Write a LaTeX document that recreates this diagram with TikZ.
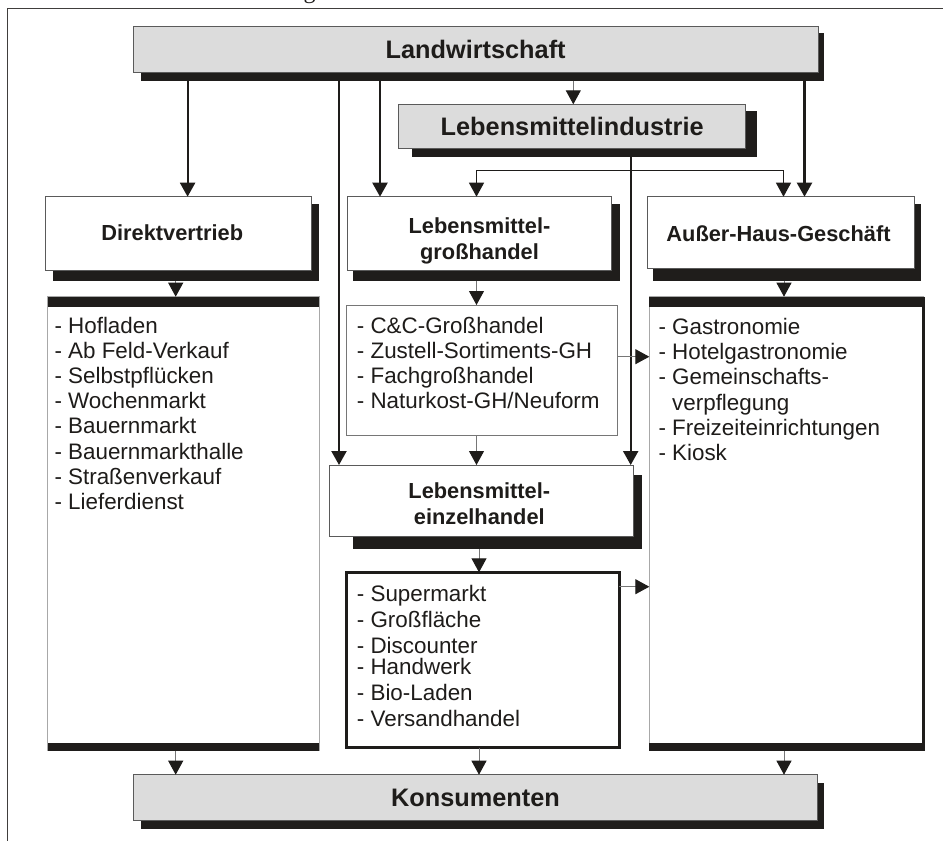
\documentclass[tikz,border=0pt]{standalone}
\usepackage{fontspec}
\setmainfont{Liberation Sans}
\newfontfamily\CapSerif{Liberation Serif}
\usetikzlibrary{arrows.meta,fit,calc}
\definecolor{ink}{HTML}{1E1C1A}
\definecolor{shd}{HTML}{1F1D1B}
\definecolor{boxfill}{HTML}{DCDCDC}
\definecolor{edgegray}{HTML}{5A5A5A}
\definecolor{thingray}{HTML}{767676}
\definecolor{paleedge}{HTML}{A8A8A8}
\tikzset{
 shadowrect/.style={fill=shd, inner sep=0pt, outer sep=0pt, draw=none},
 graybox/.style={draw=edgegray, line width=1pt, fill=boxfill, inner sep=0pt, outer sep=0pt, font=\fontsize{25.3}{28}\selectfont\bfseries, text=ink},
 whitebox/.style={draw=edgegray, line width=1pt, fill=white, inner sep=0pt, outer sep=0pt},
 titletxt/.style={align=center, inner sep=0pt, font=\fontsize{21.8}{25.5}\selectfont\bfseries, text=ink},
 listbox/.style={fill=white, inner sep=0pt, outer sep=0pt},
 listtxt/.style={anchor=base west, inner sep=0pt, font=\fontsize{22.4}{25}\selectfont, text=ink},
 bigarrow/.style={draw=ink, line width=2.2pt, -{Triangle[length=14pt,width=15pt]}},
 smallarrow/.style={draw=thingray, line width=1pt, -{Triangle[length=14pt,width=15pt,color=ink]}},
 brancharrow/.style={draw=ink, line width=1.3pt, -{Triangle[length=14pt,width=15pt]}},
 band/.style={fill=shd}
}
\begin{document}
\begin{tikzpicture}[x=1pt,y=-1pt]
\useasboundingbox (0,0) rectangle (943,841);
\fill[white] (0,0) rectangle (943,841);
% frame of the figure
\draw[color=ink!85, line width=1.5pt] (7.3,841) -- (7.3,8.3) -- (943,8.3);
\node[anchor=base, inner sep=0pt, font=\CapSerif\fontsize{24}{24}\selectfont, text=ink] (capfrag) at (309.5,-1.5) {g};

% shadows
\node[shadowrect, fit={(140.7,33) (824,80.7)}] (landS) {};
\node[shadowrect, fit={(412,111) (756.5,156.7)}] (indS) {};
\node[shadowrect, fit={(53.3,204) (319.3,280.7)}] (direktS) {};
\node[shadowrect, fit={(353.3,204) (620,280.7)}] (grossS) {};
\node[shadowrect, fit={(653.3,204) (920.7,280.7)}] (ausserS) {};
\node[shadowrect, fit={(353,475) (642.3,549)}] (einzelS) {};
\node[shadowrect, fit={(141,782.7) (824,829)}] (konsumS) {};

% main boxes
\node[graybox, minimum width=684.7pt, minimum height=46pt] (land) at (475.65,49) {Landwirtschaft};
\node[graybox, minimum width=346.9pt, minimum height=44pt] (ind) at (572.15,126.3) {Lebensmittelindustrie};
\node[whitebox, minimum width=266pt, minimum height=73.3pt] (direkt) at (178.7,233.35) {};
\node[whitebox, minimum width=264pt, minimum height=73.3pt] (gross) at (479.7,233.35) {};
\node[whitebox, minimum width=266.3pt, minimum height=71.6pt] (ausser) at (780.85,232.5) {};
\node[whitebox, minimum width=304pt, minimum height=71.7pt] (einzel) at (481.3,500.85) {};
\node[graybox, minimum width=684.4pt, minimum height=46pt] (konsum) at (475.5,797.7) {Konsumenten};

\node[titletxt] (direktT) at (172.3,233.2) {Direktvertrieb};
\node[titletxt] (grossT) at (479.5,240.9) {Lebensmittel-\\großhandel};
\node[titletxt] (ausserT) at (778.5,233.3) {Außer-Haus-Geschäft};
\node[titletxt] (einzelT) at (479.3,503.6) {Lebensmittel-\\einzelhandel};

% list boxes
\node[listbox, draw=paleedge, line width=0.8pt, minimum width=271.6pt, minimum height=454pt] (dlist) at (183.5,523.7) {};
\fill[band] (dlist.north west) rectangle ($(dlist.north east)+(0,10)$);
\fill[band] ($(dlist.south west)+(0,-7.7)$) rectangle (dlist.south east);

\node[listbox, draw=thingray, line width=1pt, minimum width=271.7pt, minimum height=130pt] (glist) at (481.85,370) {};

\node[listbox, draw=ink, line width=3pt, minimum width=272.3pt, minimum height=175.4pt] (elist) at (482.85,660) {};

\node[listbox, draw=paleedge, line width=0.8pt, minimum width=274pt, minimum height=454pt] (alist) at (786.3,523.7) {};
\draw[ink, line width=3pt] (alist.north east) -- (alist.south east);
\fill[band] (alist.north west) rectangle ($(alist.north east)+(1.5,10)$);
\fill[band] ($(alist.south west)+(0,-7.7)$) rectangle ($(alist.south east)+(1.5,0)$);

% list texts
\foreach \t [count=\i] in {Hofladen, Ab Feld-Verkauf, Selbstpflücken, Wochenmarkt, Bauernmarkt, Bauernmarkthalle, Straßenverkauf, Lieferdienst}
  \node[listtxt] (dl\i) at (54.3,{333.3+25.16*(\i-1)}) {- \t};
\foreach \t [count=\i] in {C\&C-Großhandel, Zustell-Sortiments-GH, Fachgroßhandel, Naturkost-GH/Neuform}
  \node[listtxt] (gl\i) at (356.7,{333.3+25.1*(\i-1)}) {- \t};
\foreach \t/\yy [count=\i] in {Supermarkt/601.3, Großfläche/627.3, Discounter/653, Handwerk/674.3, Bio-Laden/700.7, Versandhandel/726.7}
  \node[listtxt] (el\i) at (356.7,\yy) {- \t};
\foreach \t/\yy [count=\i] in {- Gastronomie/334.3, - Hotelgastronomie/359.3, - Gemeinschafts-/384.7, {\phantom{- }verpflegung}/410, - Freizeiteinrichtungen/435.3, - Kiosk/460.7}
  \node[listtxt] (al\i) at (658.3,\yy) {\t};

% reference coordinates for connector positions
\coordinate (xInd) at (573.3,0);
\coordinate (xDir) at (187.6,0);
\coordinate (xLong) at (339,0);
\coordinate (xGro) at (380,0);
\coordinate (xAus) at (804.5,0);
\coordinate (xIndDown) at (630.7,0);
\coordinate (xBrL) at (476.5,0);
\coordinate (xBrR) at (783.5,0);
\coordinate (xDl) at (175.7,0);
\coordinate (xGl) at (476.5,0);
\coordinate (xAl) at (784,0);
\coordinate (xEl) at (479,0);
\coordinate (yG2A) at (0,356.7);
\coordinate (yE2A) at (0,586.7);
\coordinate (jn) at (630.7,170.7);

% connectors
\draw[smallarrow] (landS.south -| xInd) -- (ind.north -| xInd);
\draw[bigarrow] (landS.south -| xDir) -- (direkt.north -| xDir);
\draw[bigarrow] (landS.south -| xLong) -- (einzel.north -| xLong);
\draw[bigarrow] (landS.south -| xGro) -- (gross.north -| xGro);
\draw[bigarrow] (landS.south -| xAus) -- (ausser.north -| xAus);
\draw[bigarrow] (indS.south -| xIndDown) -- (einzel.north -| xIndDown);
\draw[brancharrow] (jn) -| (gross.north -| xBrL);
\draw[brancharrow] (jn) -| (ausser.north -| xBrR);

\draw[smallarrow] (direktS.south -| xDl) -- (dlist.north -| xDl);
\draw[smallarrow] (grossS.south -| xGl) -- (glist.north -| xGl);
\draw[smallarrow] (ausserS.south -| xAl) -- (alist.north -| xAl);
\draw[smallarrow] (glist.south -| xGl) -- (einzel.north -| xGl);
\draw[smallarrow] (einzelS.south -| xEl) -- (elist.north -| xEl);
\draw[smallarrow] (glist.east |- yG2A) -- (alist.west |- yG2A);
\draw[smallarrow] (elist.east |- yE2A) -- (alist.west |- yE2A);
\draw[smallarrow] (dlist.south -| xDl) -- (konsum.north -| xDl);
\draw[smallarrow] (elist.south -| xEl) -- (konsum.north -| xEl);
\draw[smallarrow] (alist.south -| xAl) -- (konsum.north -| xAl);
\end{tikzpicture}
\end{document}
